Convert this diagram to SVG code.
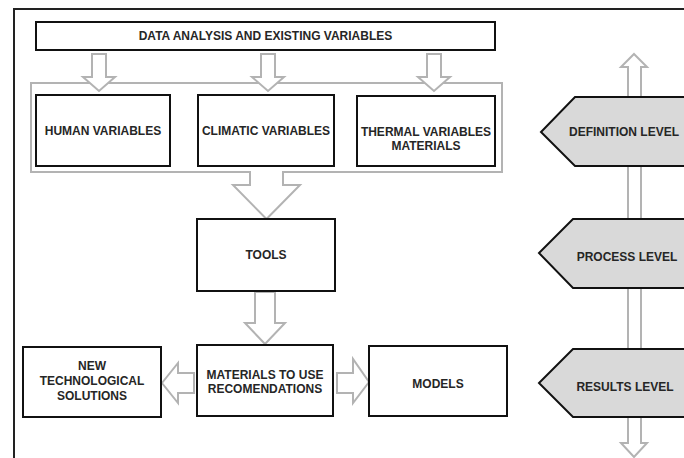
<svg xmlns="http://www.w3.org/2000/svg" width="684" height="458" viewBox="0 0 684 458">
<style>
.box{fill:#fff;stroke:#111;stroke-width:2}
.arr{fill:#fff;stroke:#b3b3b3;stroke-width:2;stroke-linejoin:miter}
.lvl{fill:#d9d9d9;stroke:#111;stroke-width:2}
.frame{fill:none;stroke:#222;stroke-width:2}
text{font-family:"Liberation Sans",Arial,sans-serif;font-weight:bold;font-size:12px;fill:#262626;text-anchor:middle;dominant-baseline:central}
</style>
<rect width="684" height="458" fill="#fff"/>
<path class="frame" d="M14,458 V9 H690"/>
<g id="connectors">
<path id="container" class="arr" d="M31,83 H502 V172 H283 V185 H300 L266.5,219 L233,185 H250 V172 H31 Z"/>
<path class="arr" d="M92,54 H106 V77 H115 L99,91 L83,77 H92 Z"/>
<path class="arr" d="M261,54 H275 V77 H284 L268,91 L252,77 H261 Z"/>
<path class="arr" d="M427,54 H441 V77 H450 L434,91 L418,77 H427 Z"/>
<path class="arr" d="M255,292 H275 V323 H285 L265,344 L245,323 H255 Z"/>
<path class="arr" d="M194,373 H178 V363 L162,383 L178,403 V393 H194 Z"/>
<path class="arr" d="M337,373 H353 V359 L369,382 L353,403 V393 H337 Z"/>
<path class="arr" d="M634,54 L647,67 H641 V443 H647 L634,457 L621,443 H628 V67 H621 Z"/>
</g>
<g id="data"><rect class="box" x="36" y="22" width="459" height="28"/><text x="265.5" y="36">DATA ANALYSIS AND EXISTING VARIABLES</text></g>
<g id="human"><rect class="box" x="36" y="95" width="134" height="71"/><text x="103" y="131">HUMAN VARIABLES</text></g>
<g id="climatic"><rect class="box" x="198" y="95" width="136" height="71"/><text x="266" y="131">CLIMATIC VARIABLES</text></g>
<g id="thermal"><rect class="box" x="357" y="96" width="138" height="70"/><text x="426" y="132">THERMAL VARIABLES</text><text x="426" y="146">MATERIALS</text></g>
<g id="tools"><rect class="box" x="197" y="219" width="138" height="72"/><text x="266" y="255">TOOLS</text></g>
<g id="materials"><rect class="box" x="197" y="345" width="136" height="71"/><text x="265" y="375">MATERIALS TO USE</text><text x="265" y="389">RECOMENDATIONS</text></g>
<g id="newtech"><rect class="box" x="23" y="347" width="138" height="70"/><text x="92" y="366">NEW</text><text x="92" y="381">TECHNOLOGICAL</text><text x="92" y="396">SOLUTIONS</text></g>
<g id="models"><rect class="box" x="369" y="346" width="138" height="70"/><text x="438" y="384">MODELS</text></g>
<g id="definition"><path class="lvl" d="M692,97 H575 L541,132 L575,166 H692"/><text x="624" y="132">DEFINITION LEVEL</text></g>
<g id="process"><path class="lvl" d="M692,219 H573 L539,253 L573,288 H692"/><text x="627" y="257">PROCESS LEVEL</text></g>
<g id="results"><path class="lvl" d="M692,349 H573 L539,383 L573,417 H692"/><text x="625" y="387">RESULTS LEVEL</text></g>
</svg>
